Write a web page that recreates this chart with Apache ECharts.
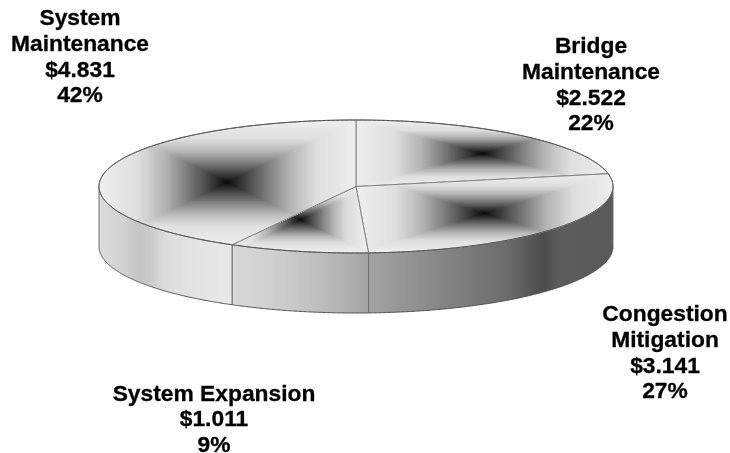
<!DOCTYPE html>
<html>
<head>
<meta charset="utf-8">
<style>html,body{margin:0;padding:0;background:#fff}#c{width:730px;height:453px}</style>
<script src="https://cdn.jsdelivr.net/npm/echarts@6/dist/echarts.min.js"></script>
</head>
<body>
<div id="c"></div>
<script>
// Data, in drawing order (clockwise from twelve o'clock)
const categories = ['Bridge\nMaintenance', 'Congestion\nMitigation', 'System Expansion', 'System\nMaintenance'];
const values = [2.522, 3.141, 1.011, 4.831];
const percents = ['22%', '27%', '9%', '42%'];

// Layout and style
const CX = 356, CY = 186.5, RX = 257, RY = 66.5, DEPTH = 60;
const labelAnchors = [[591, 34], [665, 302], [214, 381.5], [80, 6]];
const FONT_SIZE = 22.8, LINE_H = 25.7;
const topStops = [[0, 8], [0.08, 40], [0.2, 85], [0.35, 135], [0.5, 182], [0.7, 222], [1, 238]];
const wallStops = [
  [[0, '#a4a4a4'], [0.1, '#9a9a9a'], [0.37, '#7e7e7e'], [0.55, '#6e6e6e'], [0.72, '#4c4c4c'], [0.78, '#5c5c5c'], [1, '#5a5a5a']],
  [[0, '#d8d8d8'], [0.3, '#cfcfcf'], [0.6, '#c0c0c0'], [0.85, '#b0b0b0'], [1, '#a2a2a2']],
  [[0, '#dcdcdc'], [0.2, '#cfcfcf'], [0.3, '#c4c4c4'], [0.38, '#cacaca'], [0.5, '#dcdcdc'], [0.75, '#e4e4e4'], [1, '#e8e8e8']]
];

const total = values.reduce((a, b) => a + b, 0);
const starts = [];
values.reduce((acc, v, i) => { starts[i] = acc; return acc + v; }, 0);
const angleOf = v => v / total * Math.PI * 2;
const rim = (t, dy) => [CX + RX * Math.sin(t), CY - RY * Math.cos(t) + (dy || 0)];
function arc(a, b, dy) {
  const n = Math.max(2, Math.ceil(Math.abs(b - a) / 0.005));
  const pts = [];
  for (let i = 0; i <= n; i++) pts.push(rim(a + (b - a) * i / n, dy));
  return pts;
}
function grayAt(f) {
  for (let i = 1; i < topStops.length; i++) {
    if (f <= topStops[i][0]) {
      const [x0, g0] = topStops[i - 1], [x1, g1] = topStops[i];
      const g = Math.round(g0 + (g1 - g0) * (f - x0) / (x1 - x0));
      return 'rgb(' + g + ',' + g + ',' + g + ')';
    }
  }
  return 'rgb(238,238,238)';
}
const range = i => [angleOf(starts[i]), angleOf(starts[i] + values[i])];

function renderTop(params, api) {
  const i = params.dataIndex;
  const [a, b] = range(i);
  const pts = [[CX, CY]].concat(arc(a, b));
  const xs = pts.map(p => p[0]), ys = pts.map(p => p[1]);
  const x0 = Math.min(...xs), x1 = Math.max(...xs), y0 = Math.min(...ys), y1 = Math.max(...ys);
  const mx = (x0 + x1) / 2, my = (y0 + y1) / 2, w = x1 - x0, h = y1 - y0;
  const N = 70, rects = [];
  for (let k = N; k >= 1; k--) {
    const f = k / N;
    rects.push({ type: 'rect', shape: { x: mx - w * f / 2, y: my - h * f / 2, width: w * f, height: h * f },
      style: { fill: grayAt(f) }, silent: true });
  }
  return { type: 'group', children: [
    { type: 'group', children: rects, clipPath: { type: 'polygon', shape: { points: pts } } },
    { type: 'polygon', shape: { points: pts }, silent: true, style: { fill: 'none', stroke: '#808080', lineWidth: 1 } },
    { type: 'polyline', shape: { points: arc(a, b) }, silent: true, style: { fill: 'none', stroke: '#505050', lineWidth: 1 } }
  ] };
}

function renderWall(params, api) {
  const i = params.dataIndex;
  let [a, b] = range(i);
  a = Math.max(a, Math.PI / 2); b = Math.min(b, Math.PI * 1.5);
  if (b <= a) return { type: 'group', children: [] };
  const up = arc(a, b), down = arc(b, a, DEPTH);
  const xs = up.map(p => p[0]);
  const left = Math.min(...xs), right = Math.max(...xs);
  const stops = wallStops[i - 1].map(s => ({ offset: s[0], color: s[1] }));
  const fill = { type: 'linear', x: left, y: 0, x2: right, y2: 0, global: true, colorStops: stops };
  return { type: 'group', children: [
    { type: 'polygon', shape: { points: up.concat(down) }, silent: true, style: { fill: fill, stroke: null } },
    { type: 'polyline', shape: { points: arc(a, b, DEPTH) }, silent: true, style: { fill: 'none', stroke: '#505050', lineWidth: 1 } },
    { type: 'line', shape: { x1: up[0][0], y1: up[0][1], x2: up[0][0], y2: up[0][1] + DEPTH }, silent: true,
      style: { stroke: '#707070', lineWidth: 1 } },
    { type: 'line', shape: { x1: down[0][0], y1: down[0][1], x2: down[0][0], y2: down[0][1] - DEPTH }, silent: true,
      style: { stroke: '#707070', lineWidth: 1 } }
  ] };
}

function renderLabel(params, api) {
  const i = params.dataIndex;
  return { type: 'text', x: labelAnchors[i][0], y: labelAnchors[i][1], silent: true,
    style: {
      text: categories[i] + '\n$' + values[i].toFixed(3) + '\n' + percents[i],
      fill: '#000', stroke: '#000', lineWidth: 0.3, align: 'center', verticalAlign: 'top',
      font: 'bold ' + FONT_SIZE + 'px "Liberation Sans", Arial, sans-serif', lineHeight: LINE_H
    } };
}

const chart = echarts.init(document.getElementById('c'), null, { renderer: 'canvas' });
const seriesData = values.map((v, i) => ({ name: categories[i], value: v }));
chart.setOption({
  animation: false,
  backgroundColor: '#fff',
  series: [
    { type: 'custom', coordinateSystem: 'none', silent: true, z: 1, data: seriesData, renderItem: renderWall },
    { type: 'custom', coordinateSystem: 'none', silent: true, z: 2, data: seriesData, renderItem: renderTop },
    { type: 'custom', coordinateSystem: 'none', silent: true, z: 3, data: seriesData, renderItem: renderLabel }
  ]
});
</script>
</body>
</html>
